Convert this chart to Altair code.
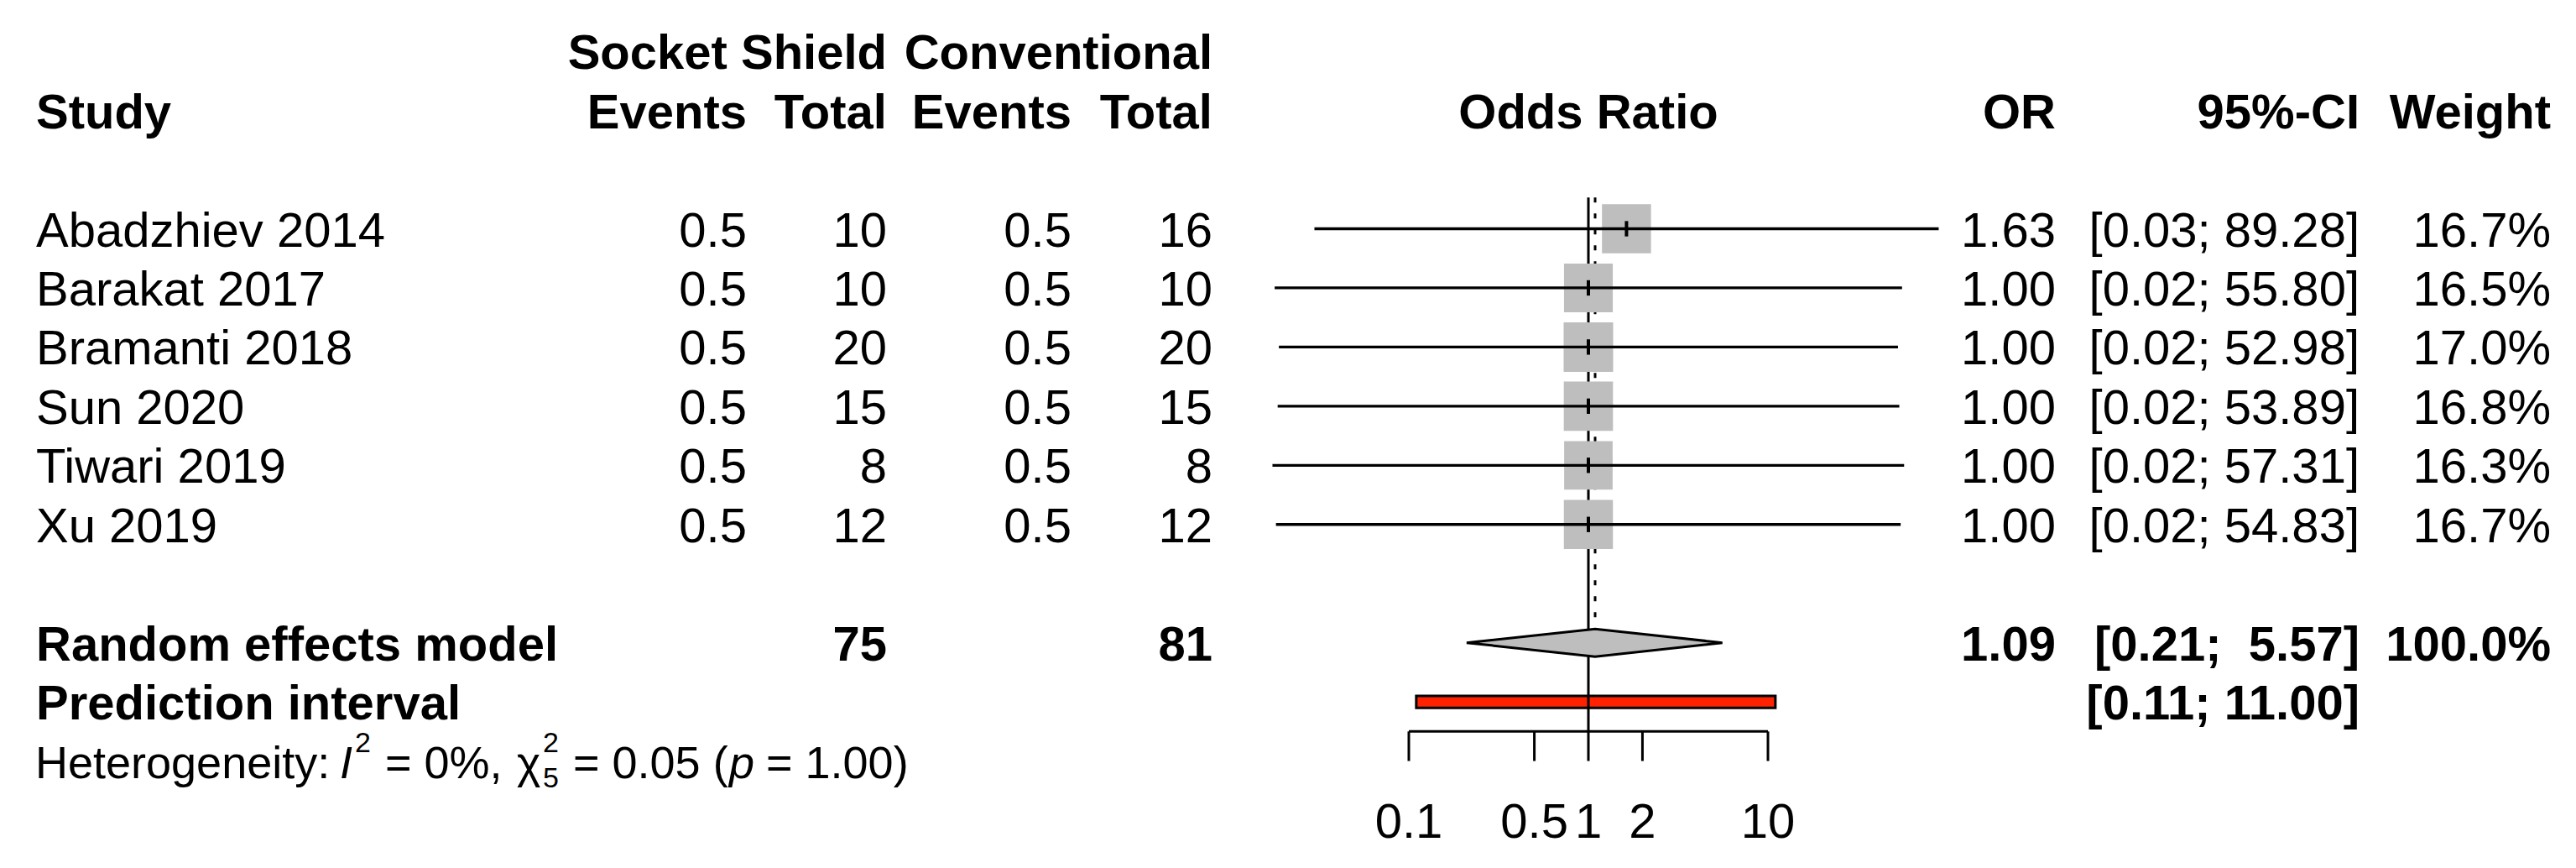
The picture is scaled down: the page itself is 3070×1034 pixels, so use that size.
import altair as alt
import pandas as pd

# ---------------- data ----------------
studies = ["Abadzhiev 2014", "Barakat 2017", "Bramanti 2018", "Sun 2020", "Tiwari 2019", "Xu 2019"]
events_ss = [0.5, 0.5, 0.5, 0.5, 0.5, 0.5]
total_ss = [10, 10, 20, 15, 8, 12]
events_conv = [0.5, 0.5, 0.5, 0.5, 0.5, 0.5]
total_conv = [16, 10, 20, 15, 8, 12]
odds_ratio = [1.63, 1.00, 1.00, 1.00, 1.00, 1.00]
ci_lower = [0.0298, 0.0179, 0.0189, 0.0186, 0.0174, 0.0182]
ci_upper = [89.28, 55.80, 52.98, 53.89, 57.31, 54.83]
weights = [16.7, 16.5, 17.0, 16.8, 16.3, 16.7]

re_label = "Random effects model"
re_total_ss = 75
re_total_conv = 81
re_or = 1.09
re_lower = 0.21
re_upper = 5.57
re_weight = 100.0
pi_label = "Prediction interval"
pi_lower = 0.11
pi_upper = 11.00

tick_values = [0.1, 0.5, 1, 2, 10]
tick_labels = ["0.1", "0.5", "1", "2", "10"]

# ---------------- layout ----------------
W, H = 3054, 1018
FONT = "Liberation Sans"
FS = 58
FS_HET = 54
DY = 21
NB = "\u00a0"

ROW0_PX, ROW_STEP = 264.5, 70.45
r_top = -ROW0_PX / ROW_STEP
r_bot = (H - ROW0_PX) / ROW_STEP
YS = alt.Scale(domain=[r_top, r_bot], reverse=True, nice=False, zero=False)

X1_PX, DECADE = 1885.0, 214.0
x_lo = 10 ** (-X1_PX / DECADE)
x_hi = 10 ** ((W - X1_PX) / DECADE)
XS = alt.Scale(type="log", domain=[x_lo, x_hi], nice=False, zero=False)

RE_ROW, PI_ROW, HET_ROW = 7, 8, 9
HDR1, HDR2 = -3, -2
AXIS_ROW, TICK_LEN, LABEL_ROW = 8.5, 0.5, 10.0
REF_TOP = -0.53
DIAMOND_H = 0.234
TICK_H = 0.13
PI_H = 0.1

COL_STUDY = 35
COL_EV1, COL_TOT1, COL_EV2, COL_TOT2 = 882, 1049, 1269, 1437
COL_OR, COL_CI, COL_W = 2442, 2804, 3032


def fmt_ci(lo, up):
    return ("[%.2f; %5.2f]" % (lo, up)).replace(" ", NB)


rows = list(range(len(studies)))
study_df = pd.DataFrame({
    "row": rows,
    "study": studies,
    "ev_e": ["%g" % v for v in events_ss],
    "n_e": [str(v) for v in total_ss],
    "ev_c": ["%g" % v for v in events_conv],
    "n_c": [str(v) for v in total_conv],
    "or": odds_ratio,
    "or_txt": ["%.2f" % v for v in odds_ratio],
    "lo": ci_lower,
    "up": ci_upper,
    "ci_txt": [fmt_ci(l, u) for l, u in zip(ci_lower, ci_upper)],
    "w": weights,
    "w_txt": ["%.1f%%" % v for v in weights],
})
study_df["ytop"] = study_df["row"] - TICK_H
study_df["ybot"] = study_df["row"] + TICK_H

summary_df = pd.DataFrame({
    "row": [RE_ROW, PI_ROW],
    "label": [re_label, pi_label],
    "n_e": [str(re_total_ss), ""],
    "n_c": [str(re_total_conv), ""],
    "or_txt": ["%.2f" % re_or, ""],
    "ci_txt": [fmt_ci(re_lower, re_upper), fmt_ci(pi_lower, pi_upper)],
    "w_txt": ["%.1f%%" % re_weight, ""],
})


def txt(df, field, x, align, bold=False, size=FS, dy=DY, style="normal"):
    return alt.Chart(df).mark_text(
        align=align, baseline="alphabetic", dy=dy, font=FONT, fontSize=size,
        fontWeight="bold" if bold else "normal", fontStyle=style, color="black"
    ).encode(
        x=alt.value(x),
        y=alt.Y("row:Q", scale=YS, axis=None),
        text=alt.Text(f"{field}:N"),
    )


layers = []

# prediction interval bar
pi_df = pd.DataFrame({"lo": [pi_lower], "up": [pi_upper],
                      "y0": [PI_ROW - PI_H], "y1": [PI_ROW + PI_H]})
layers.append(alt.Chart(pi_df).mark_rect(fill="#ff2200", stroke="black", strokeWidth=3).encode(
    x=alt.X("lo:Q", scale=XS, axis=None), x2="up:Q",
    y=alt.Y("y0:Q", scale=YS, axis=None), y2="y1:Q"))

# reference line at OR = 1
ref_df = pd.DataFrame({"x": [1.0], "y0": [REF_TOP], "y1": [AXIS_ROW]})
layers.append(alt.Chart(ref_df).mark_rule(color="black", strokeWidth=3).encode(
    x=alt.X("x:Q", scale=XS, axis=None),
    y=alt.Y("y0:Q", scale=YS, axis=None), y2="y1:Q"))

# dotted line at random effects estimate
re_line_df = pd.DataFrame({"x": [re_or], "y0": [REF_TOP], "y1": [RE_ROW - DIAMOND_H]})
layers.append(alt.Chart(re_line_df).mark_rule(color="black", strokeWidth=3, strokeDash=[6, 13]).encode(
    x=alt.X("x:Q", scale=XS, axis=None),
    y=alt.Y("y0:Q", scale=YS, axis=None), y2="y1:Q"))

# squares
layers.append(alt.Chart(study_df).mark_square(filled=True, color="#bebebe", opacity=1).encode(
    x=alt.X("or:Q", scale=XS, axis=None),
    y=alt.Y("row:Q", scale=YS, axis=None),
    size=alt.Size("w:Q", scale=alt.Scale(domain=[0, 17], range=[0, 3481]), legend=None)))

# CI lines
layers.append(alt.Chart(study_df).mark_rule(color="black", strokeWidth=3.3).encode(
    x=alt.X("lo:Q", scale=XS, axis=None), x2="up:Q",
    y=alt.Y("row:Q", scale=YS, axis=None)))

# estimate ticks
layers.append(alt.Chart(study_df).mark_rule(color="black", strokeWidth=4).encode(
    x=alt.X("or:Q", scale=XS, axis=None),
    y=alt.Y("ytop:Q", scale=YS, axis=None), y2="ybot:Q"))

# diamond
dia_df = pd.DataFrame({"x": [re_lower, re_or, re_upper],
                       "y0": [RE_ROW, RE_ROW - DIAMOND_H, RE_ROW],
                       "y1": [RE_ROW, RE_ROW + DIAMOND_H, RE_ROW]})
layers.append(alt.Chart(dia_df).mark_area(color="#bebebe", stroke="black", strokeWidth=3,
                                         opacity=1, orient="vertical").encode(
    x=alt.X("x:Q", scale=XS, axis=None),
    y=alt.Y("y0:Q", scale=YS, axis=None), y2="y1:Q"))

# axis
axis_df = pd.DataFrame({"lo": [tick_values[0]], "up": [tick_values[-1]], "row": [AXIS_ROW]})
layers.append(alt.Chart(axis_df).mark_rule(color="black", strokeWidth=3).encode(
    x=alt.X("lo:Q", scale=XS, axis=None), x2="up:Q",
    y=alt.Y("row:Q", scale=YS, axis=None)))
ticks_df = pd.DataFrame({"x": tick_values, "label": tick_labels,
                         "y0": [AXIS_ROW] * len(tick_values),
                         "y1": [AXIS_ROW + TICK_LEN] * len(tick_values),
                         "row": [LABEL_ROW] * len(tick_values)})
layers.append(alt.Chart(ticks_df).mark_rule(color="black", strokeWidth=3).encode(
    x=alt.X("x:Q", scale=XS, axis=None),
    y=alt.Y("y0:Q", scale=YS, axis=None), y2="y1:Q"))
layers.append(alt.Chart(ticks_df).mark_text(
    align="center", baseline="alphabetic", dy=DY, font=FONT, fontSize=FS, color="black").encode(
    x=alt.X("x:Q", scale=XS, axis=None),
    y=alt.Y("row:Q", scale=YS, axis=None),
    text="label:N"))

# header
hdr1 = pd.DataFrame({"row": [HDR1], "a": ["Socket Shield"], "b": ["Conventional"]})
layers += [txt(hdr1, "a", COL_TOT1, "right", True), txt(hdr1, "b", COL_TOT2, "right", True)]
hdr2 = pd.DataFrame({"row": [HDR2], "study": ["Study"], "ev": ["Events"], "tot": ["Total"],
                     "or": ["OR"], "ci": ["95%-CI"], "w": ["Weight"],
                     "mid": [1.0], "oddsratio": ["Odds Ratio"]})
layers += [
    txt(hdr2, "study", COL_STUDY, "left", True),
    txt(hdr2, "ev", COL_EV1, "right", True),
    txt(hdr2, "tot", COL_TOT1, "right", True),
    txt(hdr2, "ev", COL_EV2, "right", True),
    txt(hdr2, "tot", COL_TOT2, "right", True),
    txt(hdr2, "or", COL_OR, "right", True),
    txt(hdr2, "ci", COL_CI, "right", True),
    txt(hdr2, "w", COL_W, "right", True),
]
layers.append(alt.Chart(hdr2).mark_text(
    align="center", baseline="alphabetic", dy=DY, font=FONT, fontSize=FS,
    fontWeight="bold", color="black").encode(
    x=alt.X("mid:Q", scale=XS, axis=None),
    y=alt.Y("row:Q", scale=YS, axis=None),
    text="oddsratio:N"))

# study rows
layers += [
    txt(study_df, "study", COL_STUDY, "left"),
    txt(study_df, "ev_e", COL_EV1, "right"),
    txt(study_df, "n_e", COL_TOT1, "right"),
    txt(study_df, "ev_c", COL_EV2, "right"),
    txt(study_df, "n_c", COL_TOT2, "right"),
    txt(study_df, "or_txt", COL_OR, "right"),
    txt(study_df, "ci_txt", COL_CI, "right"),
    txt(study_df, "w_txt", COL_W, "right"),
]

# summary rows
layers += [
    txt(summary_df, "label", COL_STUDY, "left", True),
    txt(summary_df, "n_e", COL_TOT1, "right", True),
    txt(summary_df, "n_c", COL_TOT2, "right", True),
    txt(summary_df, "or_txt", COL_OR, "right", True),
    txt(summary_df, "ci_txt", COL_CI, "right", True),
    txt(summary_df, "w_txt", COL_W, "right", True),
]

# heterogeneity statistics (segments: text, x, size, dy, style)
het_segments = [
    ("Heterogeneity:", 34, FS_HET, 20, "normal"),
    ("I", 397, FS_HET, 20, "italic"),
    ("2", 415, 34, -11, "normal"),
    ("= 0%,", 451, FS_HET, 20, "normal"),
    ("\u03c7", 608, FS_HET, 20, "normal"),
    ("2", 639, 34, -11, "normal"),
    ("5", 639, 34, 31, "normal"),
    ("= 0.05 (", 675, FS_HET, 20, "normal"),
    ("p", 861, FS_HET, 20, "italic"),
    ("= 1.00)", 905, FS_HET, 20, "normal"),
]
for s, x, size, dy, style in het_segments:
    seg_df = pd.DataFrame({"row": [HET_ROW], "t": [s.replace(" ", NB)]})
    layers.append(txt(seg_df, "t", x, "left", False, size=size, dy=dy, style=style))

chart = alt.layer(*layers).properties(
    width=W, height=H, autosize=alt.AutoSizeParams(type="none"), padding=0
).configure_view(stroke=None)

chart.save("out.html", embed_options={"renderer": "svg", "actions": False})
